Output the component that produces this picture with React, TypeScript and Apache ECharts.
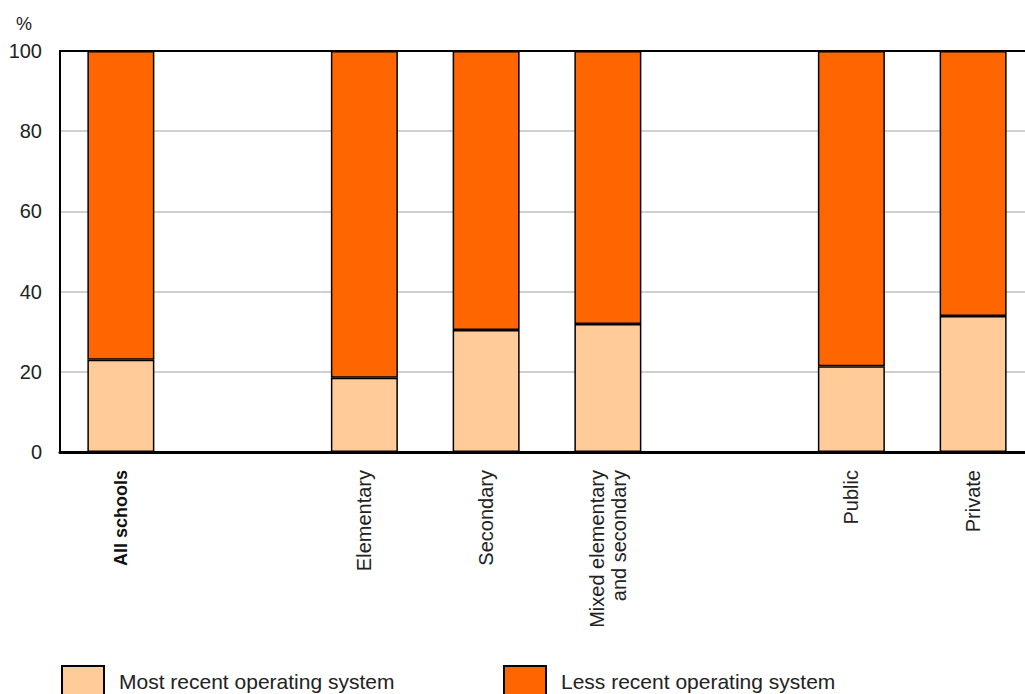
import React, { useEffect, useRef } from "react";
import * as echarts from "echarts";

const categories = [
  "All schools",
  " ",
  "Elementary",
  "Secondary",
  "Mixed elementary\nand secondary",
  "  ",
  "Public",
  "Private",
];
const mostRecent = [23, null, 18.5, 30.4, 31.9, null, 21.4, 33.9];
const lessRecent = [77, null, 81.5, 69.6, 68.1, null, 78.6, 66.1];
const seriesNames = ["Most recent operating system", "Less recent operating system"];
const yTicks = { min: 0, max: 100, interval: 20 };

const FONT = "'Liberation Sans', Arial, sans-serif";

export default function App() {
  const ref = useRef<HTMLDivElement>(null);
  useEffect(() => {
    if (!ref.current) return;
    const chart = echarts.init(ref.current, undefined, { renderer: "svg" });
    const legendBase = {
      top: 665,
      padding: 0,
      itemWidth: 42,
      itemHeight: 30,
      icon: "rect",
      textStyle: { fontSize: 21, color: "#222", fontFamily: FONT, padding: [0, 0, 0, 10] },
      itemStyle: { borderColor: "#000", borderWidth: 2 },
    };
    chart.setOption({
      animation: false,
      textStyle: { fontFamily: FONT },
      grid: {
        left: 60,
        width: 974,
        top: 51,
        bottom: 242,
        containLabel: false,
        outerBoundsMode: "none",
      },
      legend: [
        { ...legendBase, data: [seriesNames[0]], left: 61 },
        { ...legendBase, data: [seriesNames[1]], left: 503 },
      ],
      xAxis: [
        {
          type: "category",
          data: categories,
          position: "bottom",
          axisLine: { lineStyle: { color: "#000", width: 3 } },
          axisTick: { show: false },
          axisLabel: {
            rotate: 90,
            interval: 0,
            margin: 18,
            fontSize: 20,
            color: "#222",
            lineHeight: 22,
            formatter: (v: string, i: number) => (i === 0 ? "{b|" + v + "}" : v),
            rich: { b: { fontWeight: "bold", fontSize: 18, color: "#111", fontFamily: FONT } },
          },
        },
        {
          type: "category",
          data: categories,
          position: "top",
          axisLine: { lineStyle: { color: "#000", width: 2 } },
          axisTick: { show: false },
          axisLabel: { show: false },
        },
      ],
      yAxis: {
        type: "value",
        min: yTicks.min,
        max: yTicks.max,
        interval: yTicks.interval,
        name: "%",
        nameGap: 18,
        nameTextStyle: { fontSize: 18, color: "#222", align: "right", padding: [0, 28, 0, 0] },
        axisLine: { show: true, lineStyle: { color: "#000", width: 2 } },
        axisTick: { show: false },
        axisLabel: { fontSize: 20, color: "#222", margin: 18 },
        splitLine: { lineStyle: { color: "#c0c0c0", width: 1.5 } },
      },
      series: [
        {
          name: seriesNames[0],
          type: "bar",
          stack: "total",
          data: mostRecent,
          barWidth: 67,
          itemStyle: { color: "#FFCC99", borderColor: "#000", borderWidth: 1.5 },
        },
        {
          name: seriesNames[1],
          type: "bar",
          stack: "total",
          data: lessRecent,
          barWidth: 67,
          itemStyle: { color: "#FF6600", borderColor: "#000", borderWidth: 1.5 },
        },
      ],
    });
    return () => chart.dispose();
  }, []);
  return (
    <div
      ref={ref}
      style={{ position: "fixed", left: 0, top: 0, width: 1025, height: 694, background: "#fff" }}
    />
  );
}
